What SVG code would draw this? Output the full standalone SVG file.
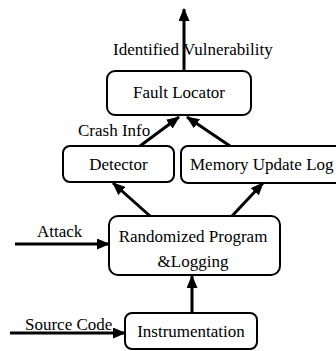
<svg xmlns="http://www.w3.org/2000/svg" width="336" height="351" viewBox="0 0 336 351">
<style>
.box{fill:#fff;stroke:#000;stroke-width:2}
.t{font-family:"Liberation Serif","Times New Roman",serif;font-size:17px;fill:#000}
.c{text-anchor:middle}
.e{fill:none;stroke:#000;stroke-width:3;marker-end:url(#ah)}
</style>
<defs>
<marker id="ah" markerUnits="userSpaceOnUse" markerWidth="13" markerHeight="11" refX="12" refY="5.5" orient="auto" viewBox="0 0 13 11">
<path d="M0,0 L13,5.5 L0,11 z" fill="#000"/>
</marker>
</defs>
<rect width="336" height="351" fill="#fff"/>
<g id="connectors">
<line class="e" x1="184" y1="71" x2="184" y2="9"/>
<line class="e" x1="140" y1="146" x2="179" y2="117"/>
<line class="e" x1="230" y1="146" x2="187" y2="117"/>
<line class="e" x1="150" y1="216" x2="113" y2="183"/>
<line class="e" x1="232" y1="216" x2="263" y2="183"/>
<line class="e" x1="192" y1="313" x2="192" y2="276"/>
<line class="e" x1="15" y1="244" x2="109" y2="244"/>
<line class="e" x1="10" y1="333" x2="125" y2="333"/>
</g>
<g id="labels">
<text class="t" x="113" y="55">Identified Vulnerability</text>
<text class="t" x="78" y="136">Crash Info</text>
<text class="t" x="37" y="237">Attack</text>
<text class="t" x="25" y="330">Source Code</text>
</g>
<g id="fault-locator">
<rect class="box" x="107" y="71" width="144" height="44" rx="8"/>
<text class="t c" x="179" y="98">Fault Locator</text>
</g>
<g id="detector">
<rect class="box" x="63" y="146" width="111" height="36" rx="7"/>
<text class="t c" x="118.5" y="170">Detector</text>
</g>
<g id="memory-update-log">
<rect class="box" x="181" y="146" width="170" height="37" rx="7"/>
<text class="t" x="190" y="170">Memory Update Log</text>
</g>
<g id="randomized-program">
<rect class="box" x="109" y="216" width="171" height="59" rx="9"/>
<text class="t c" x="193" y="242">Randomized Program</text>
<text class="t c" x="193" y="267">&amp;Logging</text>
</g>
<g id="instrumentation">
<rect class="box" x="125" y="313" width="132" height="36" rx="7"/>
<text class="t c" x="191" y="337">Instrumentation</text>
</g>
</svg>
